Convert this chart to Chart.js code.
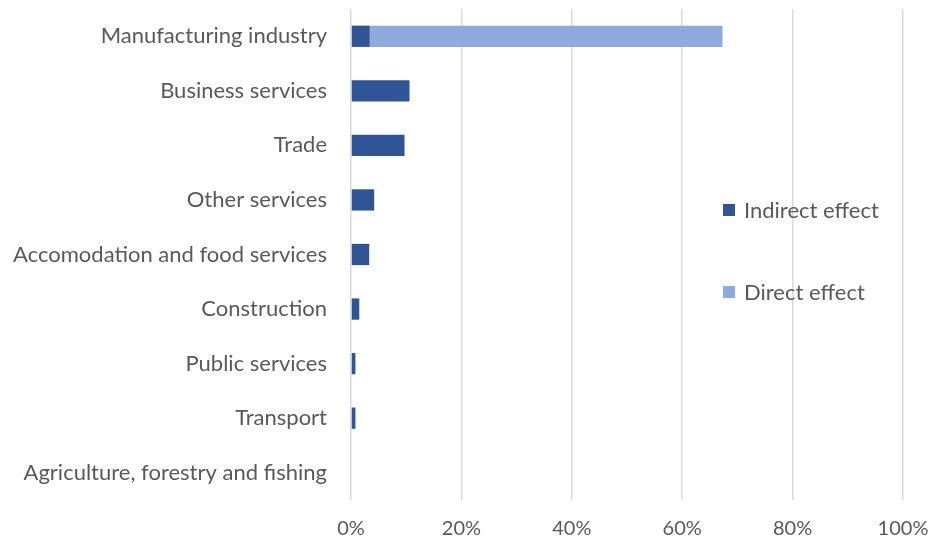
<!DOCTYPE html>
<html>
<head>
<meta charset="utf-8">
<script src="https://cdn.jsdelivr.net/npm/chart.js@4"></script>
<style>
    html, body { margin: 0; padding: 0; background: #fff; }
    #wrap { width: 934px; height: 543px; }
</style>
</head>
<body>
<div id="wrap"><canvas id="chart" width="934" height="543"></canvas></div>
<script>
const sectors = [
    'Manufacturing industry',
    'Business services',
    'Trade',
    'Other services',
    'Accomodation and food services',
    'Construction',
    'Public services',
    'Transport',
    'Agriculture, forestry and fishing'
];
const indirectEffect = [3.4, 10.6, 9.7, 4.2, 3.3, 1.5, 0.8, 0.8, 0];
const directEffect = [63.9, 0, 0, 0, 0, 0, 0, 0, 0];
const xTicks = [0, 20, 40, 60, 80, 100];

const FONT = 'Lato, "Open Sans", sans-serif';
const TEXT = '#595959';

// Excel-style legend floating over the plot, items spread apart vertically
const floatingLegend = {
    id: 'floatingLegend',
    afterDraw: function (chart, args, opts) {
        const ctx = chart.ctx;
        ctx.save();
        ctx.font = opts.fontSize + 'px ' + FONT;
        ctx.textBaseline = 'middle';
        chart.data.datasets.forEach(function (ds, i) {
            const y = opts.y + i * opts.gap;
            ctx.fillStyle = ds.backgroundColor;
            ctx.fillRect(opts.x, y - opts.box / 2, opts.box, opts.box);
            ctx.fillStyle = TEXT;
            ctx.fillText(ds.label, opts.x + opts.box + 9, y + 1);
        });
        ctx.restore();
    }
};

new Chart(document.getElementById('chart'), {
    type: 'bar',
    data: {
        labels: sectors,
        datasets: [
            { label: 'Indirect effect', data: indirectEffect, backgroundColor: '#2F5597' },
            { label: 'Direct effect', data: directEffect, backgroundColor: '#8FAADC' }
        ]
    },
    options: {
        indexAxis: 'y',
        responsive: false,
        animation: false,
        layout: { padding: { top: 9, right: 31, left: 0, bottom: 0 } },
        datasets: { bar: { categoryPercentage: 1, barPercentage: 0.39 } },
        plugins: {
            legend: { display: false },
            tooltip: { enabled: false },
            floatingLegend: { x: 723, y: 210, gap: 82, box: 12, fontSize: 22 }
        },
        scales: {
            x: {
                stacked: true,
                min: 0,
                max: 100,
                afterBuildTicks: function (scale) {
                    scale.ticks = xTicks.map(v => ({ value: v }));
                },
                afterFit: function (scale) {
                    scale.height = 43;
                    scale.paddingLeft = 0;
                    scale.paddingRight = 0;
                },
                grid: { color: '#d9d9d9', lineWidth: 1.5, drawTicks: false },
                border: { display: false },
                ticks: {
                    padding: 17,
                    color: TEXT,
                    font: { family: FONT, size: 20 },
                    callback: v => v + '%'
                }
            },
            y: {
                stacked: true,
                afterFit: function (scale) {
                    scale.width = 351;
                    scale.paddingTop = 0;
                    scale.paddingBottom = 0;
                },
                grid: { display: false, drawTicks: false },
                border: { display: false },
                ticks: {
                    padding: 24,
                    color: TEXT,
                    font: { family: FONT, size: 22 }
                }
            }
        }
    },
    plugins: [floatingLegend]
});
</script>
</body>
</html>
